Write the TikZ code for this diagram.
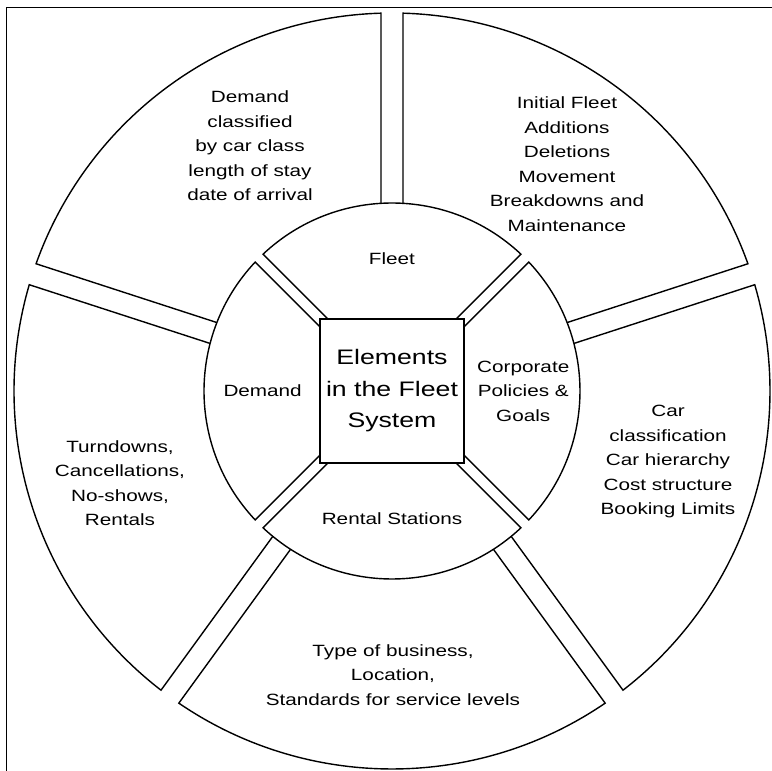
\documentclass[tikz,border=0pt]{standalone}
\usepackage{fontspec}
\setmainfont[FakeStretch=1.27]{Liberation Sans}
\usetikzlibrary{positioning}
\tikzstyle{segment}=[draw, line width=1.4pt]
\tikzstyle{seglabel}=[align=center, font=\fontsize{16.3}{24.5}\selectfont]

\begin{document}
\begin{tikzpicture}[x=1pt, y=1pt]
  \useasboundingbox (-392,-380) rectangle (380,391);
  \draw[line width=1pt] (380,383) -- (-385,383) -- (-385,-380);

  % inner ring
  \path[segment] (64.2,72) -- (46.7:188pt) arc[start angle=46.7, end angle=133.3, radius=188pt] -- (-64.2,72) -- cycle;
  \path[segment] (-72,64.2) -- (136.7:188pt) arc[start angle=136.7, end angle=223.3, radius=188pt] -- (-72,-64.2) -- cycle;
  \path[segment] (-64.2,-72) -- (226.7:188pt) arc[start angle=226.7, end angle=313.3, radius=188pt] -- (64.2,-72) -- cycle;
  \path[segment] (72,-64.2) -- (316.7:188pt) arc[start angle=316.7, end angle=403.3, radius=188pt] -- (72,64.2) -- cycle;

  % outer ring
  \path[segment] (158.65:188pt) -- (160.33:378pt) arc[start angle=160.33, end angle=91.67, radius=378pt] -- (93.35:188pt);
  \path[segment] (230.65:188pt) -- (232.33:378pt) arc[start angle=232.33, end angle=163.67, radius=378pt] -- (165.35:188pt);
  \path[segment] (302.65:188pt) -- (304.33:378pt) arc[start angle=304.33, end angle=235.67, radius=378pt] -- (237.35:188pt);
  \path[segment] (14.65:188pt) -- (16.33:378pt) arc[start angle=16.33, end angle=-52.33, radius=378pt] -- (-50.65:188pt);
  \path[segment] (86.65:188pt) -- (88.33:378pt) arc[start angle=88.33, end angle=19.67, radius=378pt] -- (21.35:188pt);

  \node[draw, line width=1.4pt, minimum size=144pt, align=center,
        font=\fontsize{21}{31.5}\selectfont] (sys) {Elements\\in the Fleet\\System};
  \node[seglabel] (fleet)  [above=50pt of sys] {Fleet};
  \node[seglabel] (demand) [left=14pt of sys]  {Demand};
  \node[seglabel] (policy) [right=9pt of sys]  {Corporate\\Policies \&\\Goals};
  \node[seglabel] (rental) [below=45pt of sys] {Rental Stations};

  \node[seglabel] (classes)  at (-142,245) {Demand\\classified\\by car class\\length of stay\\date of arrival};
  \node[seglabel] (cars)     at (175,227)  {Initial Fleet\\Additions\\Deletions\\Movement\\Breakdowns and\\Maintenance};
  \node[seglabel] (turns)    at (-272,-92) {Turndowns,\\Cancellations,\\No-shows,\\Rentals};
  \node[seglabel] (rules)    at (276,-71)  {Car\\classification\\Car hierarchy\\Cost structure\\Booking Limits};
  \node[seglabel] (business) at (1,-284)   {Type of business,\\Location,\\Standards for service levels};
\end{tikzpicture}
\end{document}
